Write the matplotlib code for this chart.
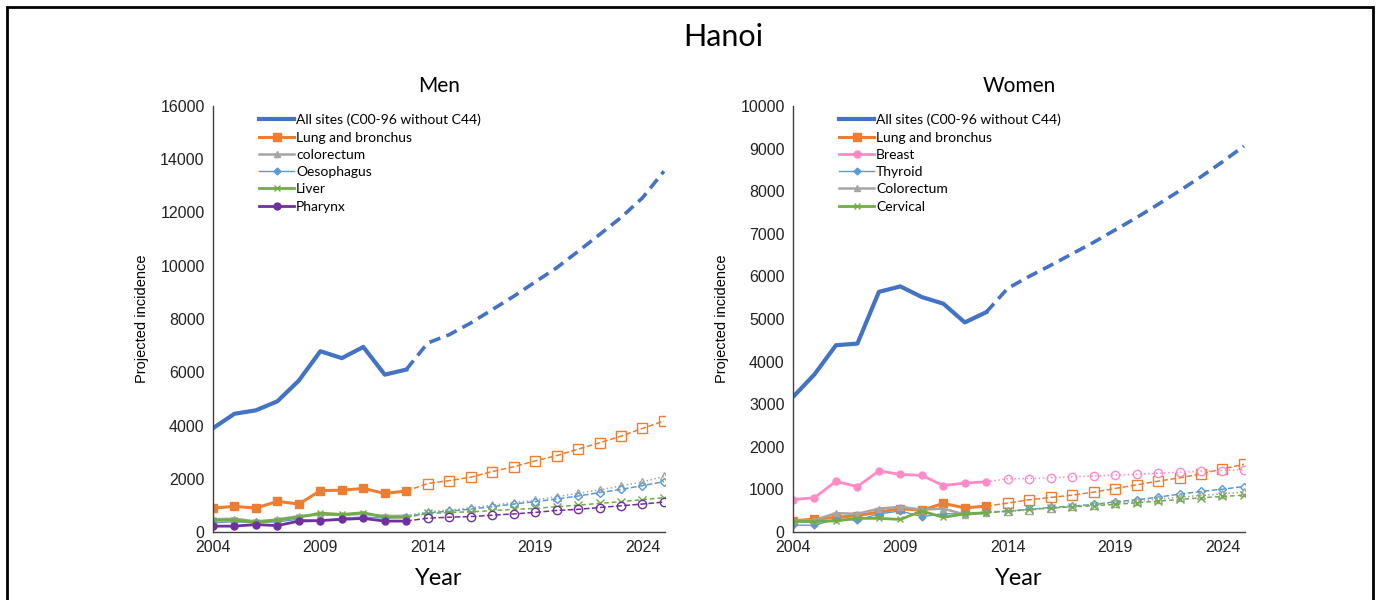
import numpy as np
import matplotlib.pyplot as plt
from matplotlib.patches import Rectangle

# years
obs_years = np.arange(2004, 2014)
proj_years = np.arange(2013, 2026)

# ---- Men: observed 2004-2013 ----
men_all = [3900, 4440, 4570, 4910, 5690, 6790, 6530, 6950, 5910, 6100]
men_lung = [900, 960, 900, 1150, 1050, 1555, 1570, 1635, 1450, 1540]
men_colo = [480, 500, 400, 470, 600, 650, 640, 680, 600, 610]
men_oeso = [350, 380, 360, 380, 480, 420, 520, 560, 520, 560]
men_liver = [440, 450, 360, 450, 555, 710, 660, 725, 555, 555]
men_phar = [220, 220, 280, 240, 410, 430, 475, 510, 410, 410]

# ---- Men: projected 2013-2025 ----
men_all_p = [6100, 7100, 7410, 7850, 8350, 8850, 9390, 9920, 10540, 11170, 11810, 12550, 13550]
men_lung_p = [1540, 1820, 1930, 2060, 2270, 2450, 2670, 2870, 3110, 3350, 3600, 3890, 4170]
men_colo_p = [610, 760, 820, 910, 1010, 1100, 1200, 1330, 1450, 1580, 1730, 1880, 2085]
men_oeso_p = [560, 720, 780, 860, 950, 1050, 1140, 1240, 1350, 1480, 1600, 1740, 1895]
men_liver_p = [555, 695, 730, 760, 800, 850, 885, 950, 1010, 1075, 1140, 1215, 1290]
men_phar_p = [410, 520, 555, 580, 630, 680, 735, 810, 850, 920, 985, 1050, 1125]

# ---- Women: observed 2004-2013 ----
wom_all = [3170, 3700, 4384, 4423, 5637, 5765, 5515, 5360, 4920, 5160]
wom_lung = [262, 303, 344, 385, 467, 549, 508, 672, 566, 607]
wom_breast = [762, 803, 1189, 1066, 1434, 1352, 1328, 1090, 1148, 1180]
wom_thyr = [164, 156, 303, 279, 426, 492, 361, 430, 426, 467]
wom_colo = [262, 279, 443, 426, 549, 590, 525, 549, 410, 451]
wom_cerv = [246, 246, 262, 320, 320, 295, 492, 344, 426, 451]

# ---- Women: projected 2013-2025 ----
wom_all_p = [5160, 5720, 6000, 6260, 6530, 6800, 7090, 7380, 7690, 8010, 8340, 8690, 9060]
wom_lung_p = [607, 678, 756, 811, 865, 935, 1021, 1107, 1193, 1270, 1364, 1481, 1590]
wom_breast_p = [1180, 1247, 1255, 1270, 1294, 1317, 1333, 1356, 1380, 1403, 1426, 1442, 1465]
wom_thyr_p = [467, 491, 530, 577, 608, 647, 709, 756, 818, 889, 951, 1005, 1068]
wom_colo_p = [451, 483, 514, 561, 600, 639, 678, 717, 772, 818, 857, 896, 935]
wom_cerv_p = [451, 491, 530, 561, 592, 616, 647, 686, 725, 764, 803, 834, 865]

BLUE = '#4472C4'
ORANGE = '#ED7D31'
GREY = '#A5A5A5'
LBLUE = '#5B9BD5'
GREEN = '#70AD47'
PURPLE = '#7030A0'
PINK = '#FF8AC8'

TITLE_FONT = ['Lato', 'DejaVu Sans']
TICK_FONT = ['Liberation Sans', 'DejaVu Sans']


def draw_series(ax, obs, proj, label, color, marker, lw, ms, ls='--'):
    ax.plot(obs_years, obs, color=color, marker=marker, lw=lw, ms=ms,
            label=label, solid_joinstyle='round')
    ax.plot(proj_years[1:], proj[1:], color=color, marker=marker, ls='none',
            ms=ms + 1, mfc='white', mew=1.0)
    ax.plot(proj_years, proj, color=color, lw=1.1, ls=ls)


def style_axes(ax, ymax, ystep, title):
    ax.set_xlim(2004, 2025.05)
    ax.set_ylim(0, ymax)
    ax.set_xticks([2004, 2009, 2014, 2019, 2024])
    ax.set_yticks(np.arange(0, ymax + 1, ystep))
    for s in ['top', 'right']:
        ax.spines[s].set_visible(False)
    for s in ['left', 'bottom']:
        ax.spines[s].set_color('#404040')
        ax.spines[s].set_linewidth(1.0)
    ax.tick_params(length=0, labelsize=11.5, pad=6)
    for lab in ax.get_xticklabels() + ax.get_yticklabels():
        lab.set_fontfamily(TICK_FONT)
        lab.set_color('#222222')
    ax.set_xlabel('Year', fontsize=17, family=TITLE_FONT, labelpad=9)
    ax.set_ylabel('Projected incidence', fontsize=10.5, family=TICK_FONT, labelpad=8)
    ax.set_title(title, fontsize=15, family=TITLE_FONT, pad=10)
    ax.legend(loc='upper left', bbox_to_anchor=(0.09, 0.995), frameon=False,
              prop={'family': TITLE_FONT, 'size': 10}, handlelength=2.5,
              handletextpad=0.15, labelspacing=0.38, borderaxespad=0)


fig = plt.figure(figsize=(13.78, 6.0), dpi=100)

ax1 = fig.add_axes([213 / 1378, 1 - 532 / 600, 452 / 1378, 426 / 600])
draw_series(ax1, men_all, men_all_p, 'All sites (C00-96 without C44)', BLUE, None, 3.0, 0)
ax1.lines[-1].set_linewidth(2.6)
ax1.lines[-1].set_dashes([3.2, 1.8])
draw_series(ax1, men_lung, men_lung_p, 'Lung and bronchus', ORANGE, 's', 2.2, 5.5)
draw_series(ax1, men_colo, men_colo_p, 'colorectum', GREY, '^', 1.8, 5, ls=':')
draw_series(ax1, men_oeso, men_oeso_p, 'Oesophagus', LBLUE, 'D', 1.0, 3.5)
draw_series(ax1, men_liver, men_liver_p, 'Liver', GREEN, 'x', 2.0, 4.5, ls=(0, (3, 2)))
draw_series(ax1, men_phar, men_phar_p, 'Pharynx', PURPLE, 'o', 2.0, 5)
style_axes(ax1, 16000, 2000, 'Men')

ax2 = fig.add_axes([793 / 1378, 1 - 532 / 600, 452 / 1378, 426 / 600])
draw_series(ax2, wom_all, wom_all_p, 'All sites (C00-96 without C44)', BLUE, None, 3.0, 0)
ax2.lines[-1].set_linewidth(2.6)
ax2.lines[-1].set_dashes([3.2, 1.8])
draw_series(ax2, wom_lung, wom_lung_p, 'Lung and bronchus', ORANGE, 's', 2.2, 5.5)
draw_series(ax2, wom_breast, wom_breast_p, 'Breast', PINK, 'o', 2.0, 5, ls=':')
draw_series(ax2, wom_thyr, wom_thyr_p, 'Thyroid', LBLUE, 'D', 1.0, 3.5)
draw_series(ax2, wom_colo, wom_colo_p, 'Colorectum', GREY, '^', 1.8, 5, ls=':')
draw_series(ax2, wom_cerv, wom_cerv_p, 'Cervical', GREEN, 'x', 2.0, 4.5, ls=(0, (3, 2)))
style_axes(ax2, 10000, 1000, 'Women')

fig.text(0.525, 1 - 37 / 600, 'Hanoi', ha='center', va='center', fontsize=22,
         family=TITLE_FONT)

# frame around the figure
fig.add_artist(Rectangle((7 / 1378, -0.02), 1366 / 1378, 1 - 7 / 600 + 0.02,
                         transform=fig.transFigure, fill=False, ec='black', lw=2))

fig.savefig('out.png', dpi=100)
